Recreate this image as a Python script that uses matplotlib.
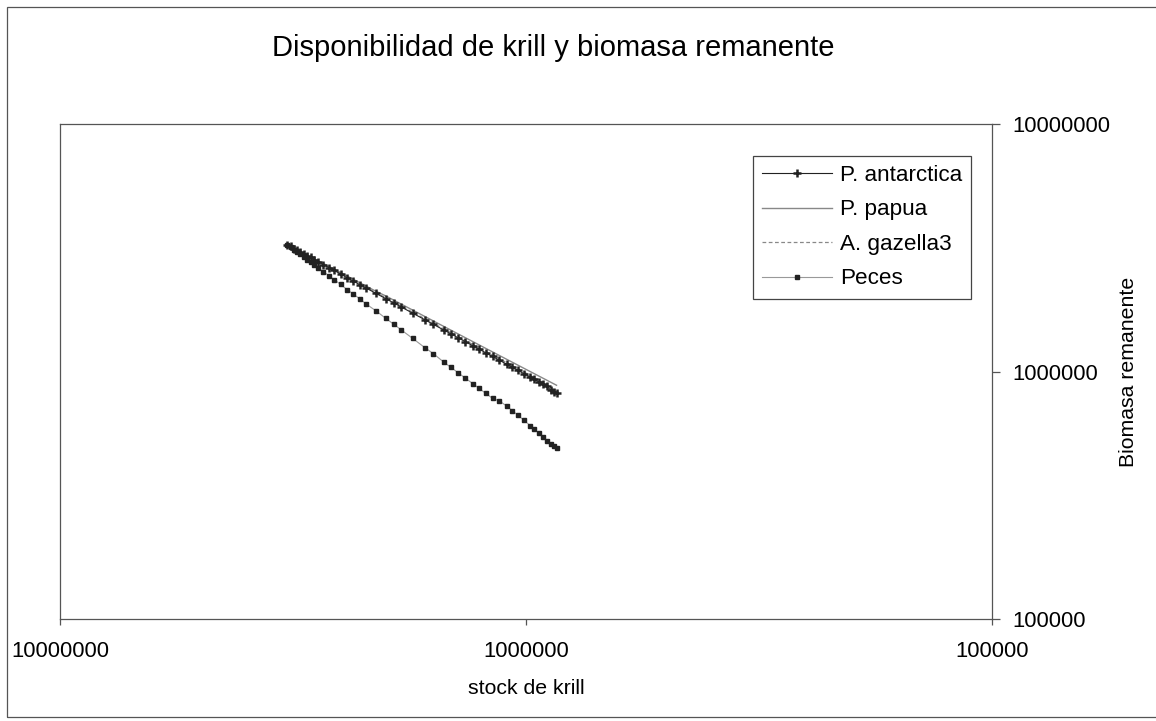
import numpy as np
import matplotlib
matplotlib.use("Agg")
import matplotlib.pyplot as plt
from matplotlib.ticker import FuncFormatter, NullLocator
from matplotlib.patches import Rectangle

plt.rcParams['font.family'] = ['Liberation Sans', 'DejaVu Sans']

# stock de krill (eje x, escala log invertida)
stock = [3.25e6, 3.20e6, 3.15e6, 3.10e6, 3.05e6, 3.00e6, 2.95e6, 2.90e6, 2.85e6, 2.80e6,
         2.72e6, 2.65e6, 2.58e6, 2.50e6, 2.42e6, 2.35e6, 2.27e6, 2.20e6, 2.10e6, 2.00e6,
         1.92e6, 1.85e6, 1.75e6, 1.65e6, 1.58e6, 1.50e6, 1.45e6, 1.40e6, 1.35e6, 1.30e6,
         1.26e6, 1.22e6, 1.18e6, 1.14e6, 1.10e6, 1.07e6, 1.04e6, 1.01e6, 0.98e6, 0.96e6,
         0.94e6, 0.92e6, 0.90e6, 0.885e6, 0.87e6, 0.86e6]

# biomasa remanente por grupo
p_antarctica = [3.25e6, 3.20e6, 3.14e6, 3.09e6, 3.04e6, 2.99e6, 2.94e6, 2.89e6, 2.83e6, 2.78e6,
                2.70e6, 2.63e6, 2.56e6, 2.48e6, 2.39e6, 2.32e6, 2.24e6, 2.17e6, 2.07e6, 1.97e6,
                1.89e6, 1.82e6, 1.72e6, 1.62e6, 1.55e6, 1.47e6, 1.42e6, 1.37e6, 1.32e6, 1.27e6,
                1.23e6, 1.19e6, 1.15e6, 1.11e6, 1.07e6, 1.04e6, 1.01e6, 0.98e6, 0.95e6, 0.93e6,
                0.91e6, 0.89e6, 0.87e6, 0.84e6, 0.825e6, 0.815e6]
p_papua = [3.25e6, 3.20e6, 3.15e6, 3.10e6, 3.05e6, 3.00e6, 2.95e6, 2.90e6, 2.86e6, 2.81e6,
           2.73e6, 2.66e6, 2.59e6, 2.51e6, 2.43e6, 2.36e6, 2.28e6, 2.21e6, 2.11e6, 2.02e6,
           1.94e6, 1.87e6, 1.77e6, 1.67e6, 1.60e6, 1.52e6, 1.47e6, 1.42e6, 1.37e6, 1.32e6,
           1.28e6, 1.24e6, 1.20e6, 1.16e6, 1.12e6, 1.09e6, 1.06e6, 1.03e6, 1.00e6, 0.98e6,
           0.96e6, 0.94e6, 0.92e6, 0.905e6, 0.89e6, 0.88e6]
a_gazella3 = [3.25e6, 3.20e6, 3.145e6, 3.095e6, 3.045e6, 2.995e6, 2.945e6, 2.895e6, 2.84e6, 2.79e6,
              2.71e6, 2.64e6, 2.57e6, 2.49e6, 2.41e6, 2.335e6, 2.255e6, 2.185e6, 2.085e6, 1.985e6,
              1.905e6, 1.835e6, 1.735e6, 1.635e6, 1.565e6, 1.485e6, 1.435e6, 1.385e6, 1.335e6, 1.285e6,
              1.245e6, 1.205e6, 1.165e6, 1.125e6, 1.085e6, 1.055e6, 1.025e6, 0.995e6, 0.965e6, 0.945e6,
              0.925e6, 0.905e6, 0.885e6, 0.86e6, 0.845e6, 0.83e6]
peces = [3.25e6, 3.18e6, 3.11e6, 3.04e6, 2.97e6, 2.90e6, 2.83e6, 2.77e6, 2.70e6, 2.63e6,
         2.53e6, 2.44e6, 2.35e6, 2.25e6, 2.14e6, 2.06e6, 1.96e6, 1.87e6, 1.76e6, 1.64e6,
         1.55e6, 1.47e6, 1.36e6, 1.25e6, 1.18e6, 1.09e6, 1.04e6, 0.99e6, 0.94e6, 0.893e6,
         0.854e6, 0.816e6, 0.779e6, 0.76e6, 0.725e6, 0.695e6, 0.665e6, 0.635e6, 0.605e6, 0.585e6,
         0.565e6, 0.545e6, 0.525e6, 0.51e6, 0.498e6, 0.49e6]

W, H = 1156, 721
fig = plt.figure(figsize=(W / 100, H / 100), dpi=100)
ax = fig.add_axes([60 / W, 1 - 619 / H, (992 - 60) / W, (619 - 124) / H])

# marco exterior del gráfico
fig.patches.append(Rectangle((7 / W, 4 / H), 1.2, 1 - 11 / H, transform=fig.transFigure,
                             fill=False, edgecolor='#555555', linewidth=0.9))

ax.plot(stock, p_antarctica, color='#222222', linewidth=0.8, marker='+',
        markersize=6, markeredgewidth=1.8, label='P. antarctica', zorder=4)
ax.plot(stock, p_papua, color='#888888', linewidth=1.0, label='P. papua', zorder=3)
ax.plot(stock, a_gazella3, color='#888888', linewidth=0.9, linestyle=(0, (3, 2)),
        label='A. gazella3', zorder=3)
ax.plot(stock, peces, color='#999999', linewidth=0.8, marker='s', markersize=2.2,
        markerfacecolor='#222222', markeredgecolor='#222222', label='Peces', zorder=4)

ax.set_xscale('log')
ax.set_yscale('log')
ax.set_xlim(1e7, 1e5)
ax.set_ylim(1e5, 1e7)
ax.set_xticks([1e7, 1e6, 1e5])
ax.set_yticks([1e5, 1e6, 1e7])
ax.xaxis.set_minor_locator(NullLocator())
ax.yaxis.set_minor_locator(NullLocator())
fmt = FuncFormatter(lambda v, pos: f"{int(round(v))}")
ax.xaxis.set_major_formatter(fmt)
ax.yaxis.set_major_formatter(fmt)
ax.yaxis.tick_right()
ax.yaxis.set_label_position('right')
ax.tick_params(axis='x', direction='out', length=4, width=0.9, color='#555555',
               labelsize=15.8, pad=12)
ax.tick_params(axis='y', direction='out', length=6, width=0.9, color='#555555',
               labelsize=15.8, pad=9)
for s in ax.spines.values():
    s.set_color('#555555')
    s.set_linewidth(0.9)

ax.set_xlabel('stock de krill', fontsize=15.3, labelpad=12)
ax.set_ylabel('Biomasa remanente', fontsize=15.3, labelpad=6)
fig.text(553 / W, 1 - 48 / H, 'Disponibilidad de krill y biomasa remanente',
         fontsize=21, ha='center', va='center')

leg = ax.legend(loc='upper right', bbox_to_anchor=(971 / W, 1 - 156 / H),
                bbox_transform=fig.transFigure, fontsize=16.2, handlelength=3.1,
                handletextpad=0.35, labelspacing=0.6, borderpad=0.4,
                fancybox=False, framealpha=1, borderaxespad=0)
leg.get_frame().set_edgecolor('#444444')
leg.get_frame().set_linewidth(0.9)

fig.savefig('out.png', dpi=100)
